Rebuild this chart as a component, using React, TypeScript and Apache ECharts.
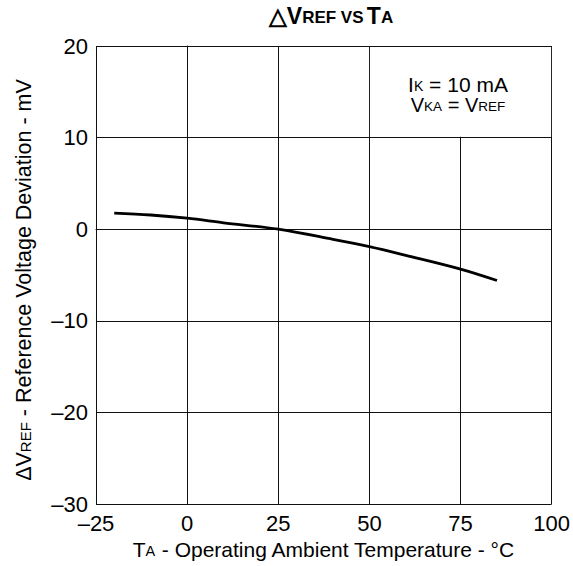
import React, { useEffect, useRef } from "react";
import * as echarts from "echarts";

const temps = [-20, -10, 0, 10, 25, 40, 50, 60, 75, 85];
const deviation = [1.75, 1.55, 1.2, 0.7, 0.0, -1.1, -1.9, -2.85, -4.35, -5.6];
const xTicks = { min: -25, max: 100, interval: 25 };
const yTicks = { min: -30, max: 20, interval: 10 };
const boxArea = { x0: 50.15, x1: 99.85, y0: 10.1, y1: 19.9 };

const FONT = "Liberation Sans, Arial, Helvetica, sans-serif";

const fmt = (v: number) => String(v).replace("-", "\u2013");

export default function App() {
  const ref = useRef<HTMLDivElement>(null);
  useEffect(() => {
    if (!ref.current) return;
    document.body.style.margin = "0";
    const chart = echarts.init(ref.current, null, { renderer: "svg" });
    const tok = (s: number, extra: any = {}) => ({
      fontSize: s,
      fontFamily: FONT,
      color: "#000",
      fill: "#000",
      verticalAlign: "bottom",
      ...extra,
    });
    const small = (s: number, extra: any = {}) =>
      tok(s, { padding: [0, 0, 2, 0], ...extra });
    chart.setOption({
      animation: false,
      backgroundColor: "#fff",
      grid: { left: 96, right: 19, top: 46, bottom: 62, containLabel: false },
      xAxis: {
        type: "value",
        min: xTicks.min,
        max: xTicks.max,
        interval: xTicks.interval,
        axisLine: { show: true, lineStyle: { color: "#111", width: 1 } },
        axisTick: { show: false },
        splitLine: { show: true, lineStyle: { color: "#111", width: 1 } },
        axisLabel: { formatter: fmt, fontSize: 22, fontFamily: FONT, color: "#000", margin: 8 },
        name: "{b|T}{s|A}{b| - Operating Ambient Temperature - °C}",
        nameLocation: "middle",
        nameGap: 35,
        nameTextStyle: {
          fontSize: 21,
          fontFamily: FONT,
          color: "#000",
          rich: { b: tok(21), s: small(14.5) },
        },
      },
      yAxis: {
        type: "value",
        min: yTicks.min,
        max: yTicks.max,
        interval: yTicks.interval,
        axisLine: { show: true, lineStyle: { color: "#111", width: 1 } },
        axisTick: { show: false },
        splitLine: { show: true, lineStyle: { color: "#111", width: 1 } },
        axisLabel: { formatter: fmt, fontSize: 22, fontFamily: FONT, color: "#000", margin: 8 },
        name: "{b|ΔV}{s|REF}{b| - Reference Voltage Deviation - mV}",
        nameLocation: "middle",
        nameGap: 61,
        nameTextStyle: {
          fontSize: 21.5,
          fontFamily: FONT,
          color: "#000",
          padding: [0, 10, 0, 0],
          rich: { b: tok(21.5), s: small(15) },
        },
      },
      graphic: [
        {
          type: "text",
          x: 331,
          y: 16,
          style: {
            text: "{b|△V}{s|REF VS} {b|T}{s|A}",
            align: "center",
            verticalAlign: "middle",
            rich: {
              b: tok(23, { fontWeight: "bold" }),
              s: small(17, { fontWeight: "bold" }),
            },
          },
          z: 10,
        },
        {
          type: "text",
          x: 458,
          y: 84,
          style: {
            text: "{b|I}{s|K}{b| = 10 mA}",
            align: "center",
            verticalAlign: "middle",
            rich: { b: tok(21), s: small(14) },
          },
          z: 10,
        },
        {
          type: "text",
          x: 458,
          y: 105,
          style: {
            text: "{b|V}{s|KA}{b| = V}{s|REF}",
            align: "center",
            verticalAlign: "middle",
            rich: { b: tok(20), s: small(13.5) },
          },
          z: 10,
        },
      ],
      series: [
        {
          type: "line",
          data: temps.map((t, i) => [t, deviation[i]]),
          smooth: 0.35,
          symbol: "none",
          lineStyle: { color: "#000", width: 2.8 },
          markArea: {
            silent: true,
            itemStyle: { color: "#fff", opacity: 1 },
            data: [
              [
                { xAxis: boxArea.x0, yAxis: boxArea.y0 },
                { xAxis: boxArea.x1, yAxis: boxArea.y1 },
              ],
            ],
          },
        },
      ],
    });
    return () => chart.dispose();
  }, []);
  return (
    <div
      ref={ref}
      style={{ position: "fixed", left: 0, top: 0, width: 573, height: 566 }}
    />
  );
}
